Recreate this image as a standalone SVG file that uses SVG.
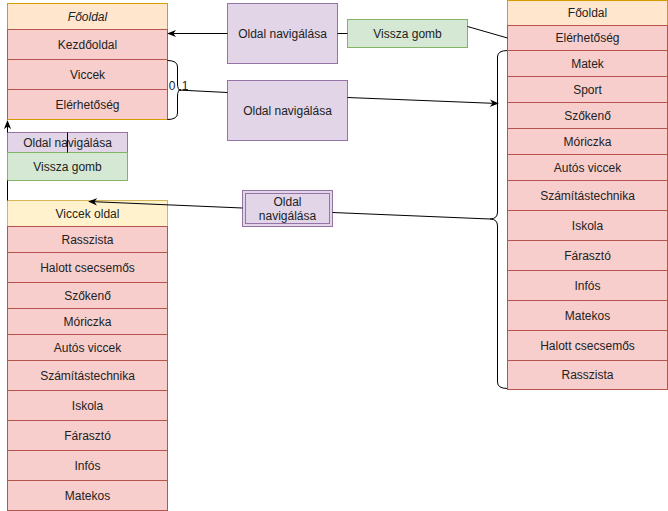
<svg xmlns="http://www.w3.org/2000/svg" width="668" height="511" viewBox="0 0 668 511">
<defs>
<marker id="arr" viewBox="0 0 10 10" refX="9" refY="5" markerWidth="9" markerHeight="9" markerUnits="userSpaceOnUse" orient="auto"><path d="M0,1 L10,5 L0,9 L3,5 z" fill="#000"/></marker>
<style>
text{font-family:"Liberation Sans",Arial,sans-serif;font-size:12px;fill:#222;text-anchor:middle;dominant-baseline:central}
.hdr{fill:#ffe6cc;stroke:#d79b00}
.hdr2{fill:#fff2cc;stroke:#d6b656}
.row{fill:#f8cecc;stroke:#b85450}
.pur{fill:#e1d5e7;stroke:#9673a6}
.grn{fill:#d5e8d4;stroke:#82b366}
.edge{fill:none;stroke:#000;stroke-width:1}
</style>
</defs>
<rect width="668" height="511" fill="#fff"/>

<g id="main-left">
<rect class="hdr" x="7.5" y="3.5" width="160" height="116"/>
<rect class="hdr" x="7.5" y="3.5" width="160" height="26"/>
<text x="87.5" y="17" font-style="italic">Főoldal</text>
<rect class="row" x="7.5" y="29.5" width="160" height="30"/>
<text x="87.5" y="44.5">Kezdőoldal</text>
<rect class="row" x="7.5" y="59.5" width="160" height="30"/>
<text x="87.5" y="74.5">Viccek</text>
<rect class="row" x="7.5" y="89.5" width="160" height="30"/>
<text x="87.5" y="104.5">Elérhetőség</text>
<path d="M7.5,119.5 L167.5,119.5" stroke="#d79b00" fill="none"/>
</g>

<g id="brace-left">
<path class="edge" d="M167.5,60.5 Q177.5,60.5 177.5,67 L177.5,84 Q177.5,90 181,90 Q177.5,90 177.5,96 L177.5,113 Q177.5,119.5 167.5,119.5"/>
<text x="172" y="86">0</text>
<text x="185" y="86">1</text>
</g>

<g id="nav-top">
<rect class="pur" x="227.5" y="3.5" width="110" height="60"/>
<text x="282.5" y="33.5">Oldal navigálása</text>
</g>
<g id="back-top">
<rect class="grn" x="347.5" y="19.5" width="120" height="28"/>
<text x="407.5" y="33.5">Vissza gomb</text>
</g>
<g id="nav-mid">
<rect class="pur" x="227.5" y="80.5" width="120" height="60"/>
<text x="287.5" y="110.5">Oldal navigálása</text>
</g>

<g id="nav-left">
<rect class="pur" x="7.5" y="132.5" width="120" height="20"/>
<text x="67.5" y="142.5">Oldal navigálása</text>
</g>
<g id="back-left">
<rect class="grn" x="7.5" y="152.5" width="120" height="28"/>
<text x="67.5" y="166.5">Vissza gomb</text>
</g>

<g id="nav-double">
<rect class="pur" x="242.5" y="190.5" width="90" height="36"/>
<rect x="245.5" y="193.5" width="84" height="30" fill="none" stroke="#9673a6"/>
<text x="287.5" y="201.5">Oldal</text>
<text x="287.5" y="216">navigálása</text>
</g>

<g id="brace-right">
<path class="edge" d="M507.5,50.5 Q497.5,50.5 497.5,57 L497.5,212 Q497.5,219 490,219 Q497.5,219 497.5,226 L497.5,382 Q497.5,388.5 507.5,388.5"/>
</g>

<g id="main-right">
<rect class="hdr" x="507.5" y="0.5" width="160" height="389"/>
<rect class="hdr" x="507.5" y="0.5" width="160" height="25"/>
<text x="587.5" y="13">Főoldal</text>
<rect class="row" x="507.5" y="25.5" width="160" height="25"/>
<text x="587.5" y="38">Elérhetőség</text>
<rect class="row" x="507.5" y="50.5" width="160" height="26"/>
<text x="587.5" y="63.5">Matek</text>
<rect class="row" x="507.5" y="76.5" width="160" height="26"/>
<text x="587.5" y="89.5">Sport</text>
<rect class="row" x="507.5" y="102.5" width="160" height="26"/>
<text x="587.5" y="115.5">Szőkenő</text>
<rect class="row" x="507.5" y="128.5" width="160" height="26"/>
<text x="587.5" y="141.5">Móriczka</text>
<rect class="row" x="507.5" y="154.5" width="160" height="26"/>
<text x="587.5" y="167.5">Autós viccek</text>
<rect class="row" x="507.5" y="180.5" width="160" height="30"/>
<text x="587.5" y="195.5">Számítástechnika</text>
<rect class="row" x="507.5" y="210.5" width="160" height="30"/>
<text x="587.5" y="225.5">Iskola</text>
<rect class="row" x="507.5" y="240.5" width="160" height="30"/>
<text x="587.5" y="255.5">Fárasztó</text>
<rect class="row" x="507.5" y="270.5" width="160" height="30"/>
<text x="587.5" y="285.5">Infós</text>
<rect class="row" x="507.5" y="300.5" width="160" height="30"/>
<text x="587.5" y="315.5">Matekos</text>
<rect class="row" x="507.5" y="330.5" width="160" height="30"/>
<text x="587.5" y="345.5">Halott csecsemős</text>
<rect class="row" x="507.5" y="360.5" width="160" height="29"/>
<text x="587.5" y="375">Rasszista</text>
</g>

<g id="jokes-page">
<rect class="hdr2" x="7.5" y="200.5" width="160" height="310"/>
<rect class="hdr2" x="7.5" y="200.5" width="160" height="26"/>
<text x="87.5" y="213.5">Viccek oldal</text>
<rect class="row" x="7.5" y="226.5" width="160" height="26"/>
<text x="87.5" y="239.5">Rasszista</text>
<rect class="row" x="7.5" y="252.5" width="160" height="30"/>
<text x="87.5" y="267.5">Halott csecsemős</text>
<rect class="row" x="7.5" y="282.5" width="160" height="26"/>
<text x="87.5" y="295.5">Szőkenő</text>
<rect class="row" x="7.5" y="308.5" width="160" height="26"/>
<text x="87.5" y="321.5">Móriczka</text>
<rect class="row" x="7.5" y="334.5" width="160" height="26"/>
<text x="87.5" y="347.5">Autós viccek</text>
<rect class="row" x="7.5" y="360.5" width="160" height="30"/>
<text x="87.5" y="375.5">Számítástechnika</text>
<rect class="row" x="7.5" y="390.5" width="160" height="30"/>
<text x="87.5" y="405.5">Iskola</text>
<rect class="row" x="7.5" y="420.5" width="160" height="30"/>
<text x="87.5" y="435.5">Fárasztó</text>
<rect class="row" x="7.5" y="450.5" width="160" height="30"/>
<text x="87.5" y="465.5">Infós</text>
<rect class="row" x="7.5" y="480.5" width="160" height="30"/>
<text x="87.5" y="495.5">Matekos</text>
</g>

<g id="connectors">
<path class="edge" d="M227.5,33.5 L168,33.5" marker-end="url(#arr)"/>
<path class="edge" d="M337.5,33.5 L347.5,33.5"/>
<path class="edge" d="M467.5,26.5 L507.5,38"/>
<path class="edge" d="M178,90 L227.5,92.5"/>
<path class="edge" d="M347.5,97.5 L498,103.5" marker-end="url(#arr)"/>
<path class="edge" d="M490,219 L332.5,212.5"/>
<path class="edge" d="M242.5,208 L89,201.5" marker-end="url(#arr)"/>
<path class="edge" d="M7.5,200.5 L7.5,180.5"/>
<path class="edge" d="M7.5,132.5 L7.5,121" marker-end="url(#arr)"/>
<path class="edge" d="M67.5,132.5 L67.5,152.5"/>
</g>
</svg>
